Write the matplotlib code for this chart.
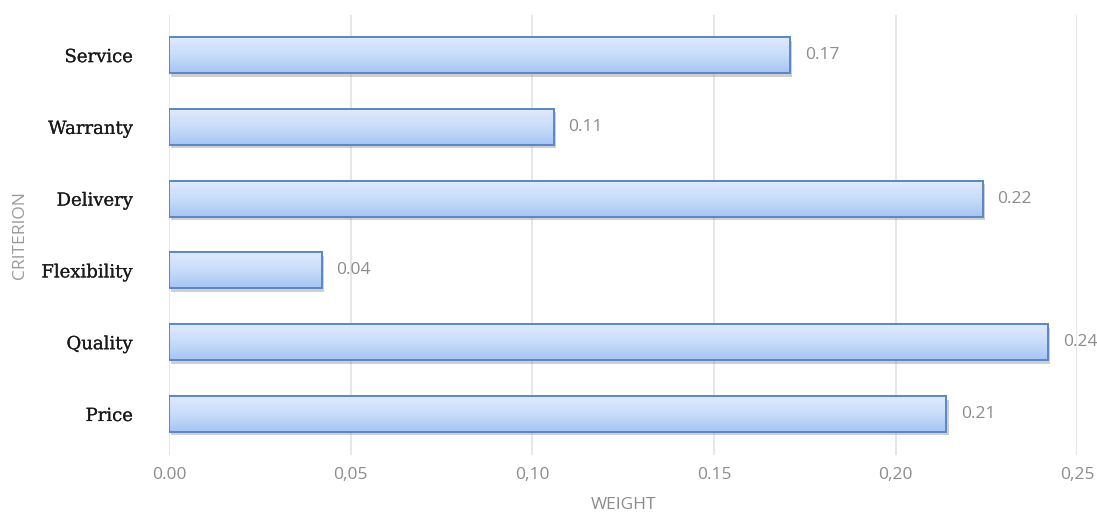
import numpy as np
import matplotlib.pyplot as plt
from matplotlib import patheffects as pe
from matplotlib.colors import LinearSegmentedColormap

# criterion weights, listed bottom to top
criteria = ['Price', 'Quality', 'Flexibility', 'Delivery', 'Warranty', 'Service']
weights = [0.214, 0.242, 0.042, 0.224, 0.106, 0.171]
xticks = [0.00, 0.05, 0.10, 0.15, 0.20, 0.25]
xtick_labels = ['0.00', '0,05', '0,10', '0.15', '0,20', '0,25']

fig, ax = plt.subplots(figsize=(10.97, 5.14), dpi=100)
fig.subplots_adjust(left=0.154, right=0.982, top=0.971, bottom=0.115)

y = np.arange(len(criteria))
h = 0.5

# soft drop shadow + base fill
bars = ax.barh(y, weights, height=h, color='#c3d8f8', edgecolor='none', zorder=2,
               path_effects=[pe.SimplePatchShadow(offset=(1.5, -2.5), shadow_rgbFace='#888888', alpha=0.4),
                             pe.Normal()])

# vertical gradient inside each bar
grad = np.linspace(0, 1, 64).reshape(-1, 1)
cmap = LinearSegmentedColormap.from_list('bar', ['#a6c5f3', '#c8dcfa', '#dfeafc'])
for b in bars:
    x0, y0 = b.get_x(), b.get_y()
    im = ax.imshow(grad, cmap=cmap, aspect='auto', origin='lower',
                   extent=[x0, x0 + b.get_width(), y0, y0 + b.get_height()], zorder=3)
    im.set_clip_path(b)

ax.barh(y, weights, height=h, color='none', edgecolor='#5a86c8', linewidth=1.4, zorder=4)

for yi, w in zip(y, weights):
    ax.text(w + 0.004, yi, f'{w:.2f}', va='center', ha='left', color='#8c8c8c',
            fontsize=12.5, family='Open Sans', zorder=5)

ax.set_xlim(0, 0.25)
ax.set_ylim(-0.57, 5.56)
ax.set_xticks(xticks)
ax.set_xticklabels(xtick_labels, color='#8c8c8c', fontsize=12.5, family='Open Sans')
ax.set_yticks(y)
ax.set_yticklabels(criteria, fontsize=13, family='DejaVu Serif', color='#1a1a1a')
for t in ax.get_yticklabels():
    t.set_path_effects([pe.withStroke(linewidth=0.15, foreground='#1a1a1a')])
ax.tick_params(axis='y', length=0, pad=26)
ax.tick_params(axis='x', length=0, pad=9)
ax.grid(axis='x', color='#e0e0e0', linewidth=1.1, zorder=0)
ax.set_axisbelow(True)
for s in ax.spines.values():
    s.set_visible(False)

ax.set_xlabel('WEIGHT', color='#8c8c8c', fontsize=12.5, family='Open Sans', labelpad=10)
ax.set_ylabel('CRITERION', color='#9a9a9a', fontsize=12.5, family='Open Sans')
ax.yaxis.set_label_coords(-0.155, 0.5)

fig.savefig('out.png')
